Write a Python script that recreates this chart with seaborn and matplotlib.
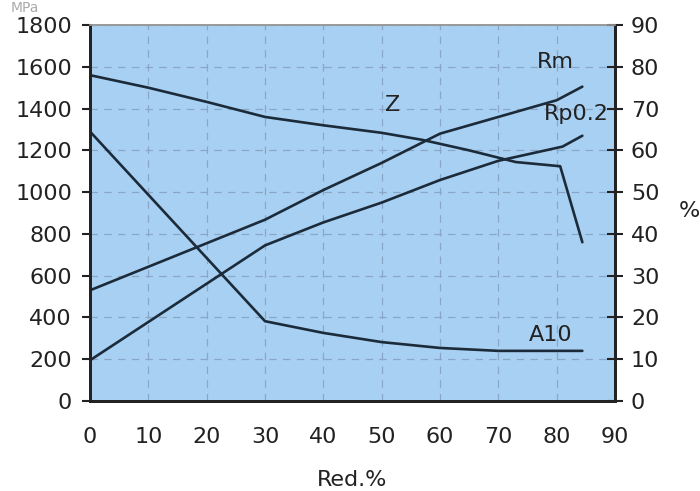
import pandas as pd
import numpy as np
import matplotlib
matplotlib.use("Agg")
import matplotlib.pyplot as plt
import seaborn as sns

sns.set_style("white")
plt.rcParams["font.family"] = ["DejaVu Sans"]

# Data
red_rm = [0, 30, 40, 50, 60, 70, 80, 84.4]
rm = [530, 868, 1010, 1140, 1280, 1360, 1440, 1505]

red_rp = [0, 30, 40, 50, 60, 70, 81, 84.4]
rp02 = [195, 745, 855, 950, 1058, 1150, 1218, 1270]

red_z = [0, 10, 20, 30, 40, 50, 57, 65, 73, 80.6, 84.4]
z = [78, 75, 71.6, 68, 66, 64.2, 62.5, 60, 57.2, 56.2, 38]

red_a = [0, 30, 40, 50, 60, 70, 84.4]
a10 = [64.5, 19.1, 16.3, 14.1, 12.7, 12, 12]

line_color = "#1c2b3a"
txt = "#222222"
bg = "#a8d0f2"
grid_color = "#8aa6c6"
fs = 16

fig = plt.figure(figsize=(7, 4.91), dpi=100)
ax = fig.add_axes([0.1286, 0.1833, 0.75, 0.7657])
ax.set_facecolor(bg)

df_rm = pd.DataFrame({"red": red_rm, "val": rm})
df_rp = pd.DataFrame({"red": red_rp, "val": rp02})
sns.lineplot(data=df_rm, x="red", y="val", ax=ax, color=line_color, lw=1.9)
sns.lineplot(data=df_rp, x="red", y="val", ax=ax, color=line_color, lw=1.9)

ax.set_xlim(0, 90)
ax.set_ylim(0, 1800)
ax.set_xticks(range(0, 91, 10))
ax.set_yticks(range(0, 1801, 200))
ax.grid(True, ls=(0, (6, 5)), color=grid_color, lw=0.9)
ax.set_axisbelow(True)
ax.set_xlabel("Red.%", fontsize=fs, labelpad=16, color=txt)
ax.set_ylabel("")

ax2 = ax.twinx()
df_z = pd.DataFrame({"red": red_z, "val": z})
df_a = pd.DataFrame({"red": red_a, "val": a10})
sns.lineplot(data=df_z, x="red", y="val", ax=ax2, color=line_color, lw=1.9)
sns.lineplot(data=df_a, x="red", y="val", ax=ax2, color=line_color, lw=1.9)
ax2.set_ylim(0, 90)
ax2.set_yticks(range(0, 91, 10))
ax2.set_ylabel("")

for a in (ax, ax2):
    for side in ("left", "right", "bottom"):
        a.spines[side].set_color(txt)
        a.spines[side].set_linewidth(2)
    a.spines["top"].set_color("#999999")
    a.spines["top"].set_linewidth(1.2)
    a.tick_params(labelsize=fs, colors=txt, width=1.5)

ax.tick_params(axis="y", direction="out", length=6, pad=7)
ax.tick_params(axis="x", direction="out", length=5, pad=14)
ax2.tick_params(axis="y", direction="inout", length=11, pad=6)

ax.text(83, 1500 + 75, "Rm", fontsize=fs, ha="right", va="bottom", color=txt)
ax.text(83.3, 1290 + 35, "Rp0.2", fontsize=fs, ha="center", va="bottom", color=txt)
ax.text(51.8, 1415, "Z", fontsize=fs, ha="center", va="center", color=txt)
ax2.text(79, 13.5, "A10", fontsize=fs, ha="center", va="bottom", color=txt)
fig.text(0.985, 0.57, "%", fontsize=fs, ha="center", va="center", color=txt)
fig.text(0.015, 0.998, "MPa", fontsize=10, ha="left", va="top", color="#aaaaaa")

fig.savefig("out.png", dpi=100)
